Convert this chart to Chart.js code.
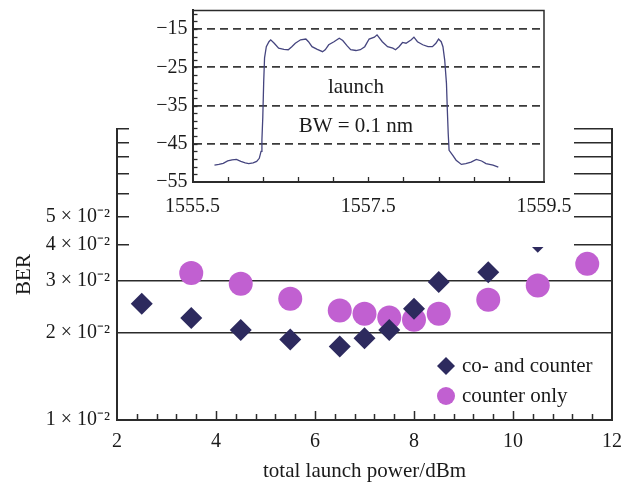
<!DOCTYPE html>
<html>
<head>
<meta charset="utf-8">
<script src="https://cdn.jsdelivr.net/npm/chart.js@4.4.1/dist/chart.umd.min.js"></script>
<style>
  html, body { margin: 0; padding: 0; background: #fff; }
  #wrap { position: relative; width: 635px; height: 482px; overflow: hidden; }
  #main { position: absolute; left: 0; top: 0; }
  #inset { position: absolute; left: 129px; top: 0; background: #fff; }
</style>
</head>
<body>
<div id="wrap">
  <canvas id="main" width="635" height="482"></canvas>
  <canvas id="inset" width="445" height="247"></canvas>
</div>
<script>
// ---- BER versus total launch power ----
const launchPowerCo = [2.5, 3.5, 4.5, 5.5, 6.5, 7, 7.5, 8, 8.5, 9.5, 10.5];
const berCo = [0.0251, 0.0224, 0.0204, 0.0189, 0.0179, 0.0191, 0.0204, 0.0241, 0.0298, 0.0322, 0.041];

const launchPowerCounter = [3.5, 4.5, 5.5, 6.5, 7, 7.5, 8, 8.5, 9.5, 10.5, 11.5];
const berCounter = [0.032, 0.0294, 0.0261, 0.0238, 0.0232, 0.0225, 0.0221, 0.0232, 0.0259, 0.029, 0.0344];

const seriesNames = ['co- and counter', 'counter only'];
const berTickMantissas = [1, 2, 3, 4, 5, 6, 7, 8, 9, 10];   // ×10⁻²
const berLabelMantissas = [1, 2, 3, 4, 5];
const powerLabelValues = [2, 4, 6, 8, 10, 12];

// ---- inset: launch spectrum ----
const wavelengthNm = [
  1555.75, 1555.80, 1555.85, 1555.90, 1555.95, 1556.00, 1556.05, 1556.10, 1556.14, 1556.19,
  1556.23, 1556.26, 1556.28, 1556.29, 1556.30, 1556.31, 1556.32, 1556.34, 1556.37, 1556.39,
  1556.43, 1556.48, 1556.54, 1556.59, 1556.63, 1556.67, 1556.73, 1556.79, 1556.82, 1556.86,
  1556.92, 1556.98, 1557.01, 1557.05, 1557.11, 1557.17, 1557.21, 1557.26, 1557.30, 1557.36,
  1557.41, 1557.46, 1557.51, 1557.57, 1557.60, 1557.66, 1557.72, 1557.78, 1557.81, 1557.85,
  1557.89, 1557.93, 1557.99, 1558.02, 1558.06, 1558.12, 1558.18, 1558.23, 1558.27, 1558.30,
  1558.33, 1558.35, 1558.37, 1558.39, 1558.40, 1558.41, 1558.42, 1558.46, 1558.50, 1558.56,
  1558.61, 1558.67, 1558.73, 1558.79, 1558.84, 1558.92, 1558.98
];
const launchSpectrumDbm = [
  -50.6, -50.4, -50.1, -49.5, -49.2, -49.1, -49.6, -50.0, -50.2, -50.0,
  -49.6, -48.8, -47.0, -44.0, -38.0, -29.0, -22.5, -19.6, -18.3, -17.8,
  -18.7, -20.0, -20.3, -20.4, -19.6, -18.7, -17.8, -17.6, -18.3, -19.6,
  -20.3, -20.9, -20.4, -19.1, -18.3, -17.4, -18.0, -19.4, -20.4, -20.6,
  -20.4, -19.6, -17.6, -17.1, -16.5, -18.3, -19.6, -20.0, -20.4, -19.6,
  -18.5, -18.7, -17.8, -17.1, -18.3, -19.1, -19.6, -19.6, -18.7, -17.6,
  -18.3, -19.6, -23.1, -29.2, -36.2, -42.3, -46.7, -48.0, -49.3, -50.4,
  -50.2, -49.8, -49.1, -49.5, -50.2, -50.6, -51.1
];
const spectrumLabelValues = [-15, -25, -35, -45, -55];
const spectrumDashedLevels = [-15, -25, -35, -45];
const wavelengthLabelValues = [1555.5, 1557.5, 1559.5];
const spectrumNotes = ['launch', 'BW = 0.1 nm'];

const SERIF = "'Liberation Serif', 'Times New Roman', serif";
const INK = '#2b2b2b';
const NAVY = '#2d2a5e';
const ORCHID = '#c160d1';

const toPoints = (xs, ys) => xs.map((x, i) => ({ x, y: ys[i] }));
const near = (a, b) => Math.abs(a - b) < 1e-6;

// inward tick marks, right frame line and the in-plot legend
const mainDecor = {
  id: 'mainDecor',
  afterDraw(chart) {
    const { ctx, chartArea: a, scales: { x } } = chart;
    ctx.save();
    ctx.strokeStyle = INK;
    ctx.lineWidth = 1.5;
    x.ticks.forEach(t => {
      if (near(t.value, x.min) || near(t.value, x.max)) return;
      const px = Math.round(x.getPixelForValue(t.value)) + 0.5;
      const len = t.label ? 9 : 6;
      ctx.beginPath();
      ctx.moveTo(px, a.bottom);
      ctx.lineTo(px, a.bottom - len);
      ctx.stroke();
    });
    ctx.lineWidth = 2;
    ctx.beginPath();
    ctx.moveTo(a.right, a.top - 1);
    ctx.lineTo(a.right, a.bottom);
    ctx.stroke();

    // legend
    const rows = [a.bottom - 54, a.bottom - 24];
    chart.data.datasets.forEach((ds, i) => {
      ctx.fillStyle = ds.backgroundColor;
      ctx.strokeStyle = ds.backgroundColor;
      Chart.helpers.drawPoint(ctx, { pointStyle: ds.pointStyle, radius: 9, rotation: 0, borderWidth: 0 }, a.right - 166, rows[i]);
      ctx.fillStyle = '#1a1a1a';
      ctx.font = '21px ' + SERIF;
      ctx.textAlign = 'left';
      ctx.textBaseline = 'middle';
      ctx.fillText(ds.label, a.right - 150, rows[i]);
    });
    ctx.restore();
  }
};

new Chart(document.getElementById('main'), {
  type: 'scatter',
  data: {
    datasets: [
      {
        label: seriesNames[0],
        data: toPoints(launchPowerCo, berCo),
        pointStyle: 'rectRot', pointRadius: 11,
        backgroundColor: NAVY, borderColor: NAVY, borderWidth: 0
      },
      {
        label: seriesNames[1],
        data: toPoints(launchPowerCounter, berCounter),
        pointStyle: 'circle', pointRadius: 12,
        backgroundColor: ORCHID, borderColor: ORCHID, borderWidth: 0
      }
    ]
  },
  options: {
    responsive: false,
    animation: false,
    events: [],
    layout: { padding: { left: 0, top: 129, right: 23, bottom: 0 } },
    plugins: { legend: { display: false }, tooltip: { enabled: false } },
    scales: {
      x: {
        type: 'linear', min: 2, max: 12,
        afterFit(s) { s.height = 62; },
        ticks: {
          stepSize: 0.4, autoSkip: false, maxRotation: 0, padding: 2,
          color: '#1a1a1a', font: { family: SERIF, size: 20 },
          callback(v) { return powerLabelValues.some(p => near(p, v)) ? String(Math.round(v)) : ''; }
        },
        grid: { display: false },
        border: { display: true, color: INK, width: 2 },
        title: {
          display: true, text: 'total launch power/dBm', color: '#1a1a1a',
          font: { family: SERIF, size: 21, lineHeight: 1 }, padding: { top: 0, bottom: 0 }
        }
      },
      y: {
        type: 'logarithmic', min: 0.01, max: 0.1,
        afterBuildTicks(s) { s.ticks = berTickMantissas.map(m => ({ value: m / 100 })); },
        afterFit(s) { s.width = 117; },
        ticks: {
          autoSkip: false, padding: 7, color: '#1a1a1a', font: { family: SERIF, size: 20 },
          callback(v) {
            const m = v * 100;
            const r = Math.round(m);
            return (near(m, r) && berLabelMantissas.includes(r)) ? r + ' × 10⁻²' : '';
          }
        },
        grid: { color: INK, lineWidth: 1.5, drawTicks: false },
        border: { display: true, color: INK, width: 2 },
        title: {
          display: true, text: 'BER', color: '#1a1a1a',
          font: { family: SERIF, size: 21 }, padding: { top: 12, bottom: 0 }
        }
      }
    }
  },
  plugins: [mainDecor]
});

// ---- inset chart ----
const spectrumTickValues = [];
for (let v = -55; v <= -11; v += 2) spectrumTickValues.push(v);

const insetDecor = {
  id: 'insetDecor',
  afterDraw(chart) {
    const { ctx, chartArea: a, scales: { x, y } } = chart;
    ctx.save();
    ctx.strokeStyle = INK;
    ctx.lineWidth = 1.3;
    x.ticks.forEach(t => {
      if (near(t.value, x.min) || near(t.value, x.max)) return;
      const px = Math.round(x.getPixelForValue(t.value)) + 0.5;
      ctx.beginPath(); ctx.moveTo(px, a.bottom); ctx.lineTo(px, a.bottom - 5); ctx.stroke();
    });
    y.ticks.forEach(t => {
      if (near(t.value, y.min)) return;
      const py = Math.round(y.getPixelForValue(t.value)) + 0.5;
      ctx.beginPath(); ctx.moveTo(a.left, py); ctx.lineTo(a.left + 5, py); ctx.stroke();
    });
    // top and right frame
    ctx.lineWidth = 1.5;
    ctx.beginPath();
    ctx.moveTo(a.left, a.top + 0.5);
    ctx.lineTo(a.right, a.top + 0.5);
    ctx.lineTo(a.right, a.bottom);
    ctx.stroke();

    // annotations
    ctx.fillStyle = '#1a1a1a';
    ctx.font = '21px ' + SERIF;
    ctx.textAlign = 'center';
    ctx.textBaseline = 'middle';
    ctx.fillText(spectrumNotes[0], x.getPixelForValue(1557.36), y.getPixelForValue(-30.4));
    ctx.fillText(spectrumNotes[1], x.getPixelForValue(1557.36), y.getPixelForValue(-40.6));
    ctx.restore();
  }
};

new Chart(document.getElementById('inset'), {
  type: 'line',
  data: {
    datasets: [{
      data: toPoints(wavelengthNm, launchSpectrumDbm),
      borderColor: '#45457f', borderWidth: 1.3,
      pointRadius: 0, tension: 0, fill: false
    }]
  },
  options: {
    responsive: false,
    animation: false,
    events: [],
    layout: { padding: { left: 0, top: 10, right: 30, bottom: 0 } },
    plugins: { legend: { display: false }, tooltip: { enabled: false } },
    scales: {
      x: {
        type: 'linear', min: 1555.5, max: 1559.5,
        afterFit(s) { s.height = 65; s.paddingLeft = 0; s.paddingRight = 0; },
        ticks: {
          stepSize: 0.4, autoSkip: false, maxRotation: 0, padding: 5,
          color: '#1a1a1a', font: { family: SERIF, size: 20 },
          callback(v) { return wavelengthLabelValues.some(w => near(w, v)) ? v.toFixed(1) : ''; }
        },
        grid: { display: false },
        border: { display: true, color: INK, width: 2 }
      },
      y: {
        type: 'linear', min: -55, max: -10,
        afterBuildTicks(s) { s.ticks = spectrumTickValues.map(v => ({ value: v })); },
        afterFit(s) { s.width = 63.5; s.paddingTop = 0; s.paddingBottom = 0; },
        ticks: {
          autoSkip: false, padding: 5, color: '#1a1a1a', font: { family: SERIF, size: 20 },
          callback(v) { return spectrumLabelValues.includes(v) ? '−' + Math.abs(v) : ''; }
        },
        grid: {
          drawTicks: false, lineWidth: 1.8,
          color: c => (c.tick && spectrumDashedLevels.includes(c.tick.value)) ? '#3a3a3a' : 'rgba(0,0,0,0)'
        },
        border: { display: true, color: INK, width: 2, dash: [8, 5] }
      }
    }
  },
  plugins: [insetDecor]
});
</script>
</body>
</html>
